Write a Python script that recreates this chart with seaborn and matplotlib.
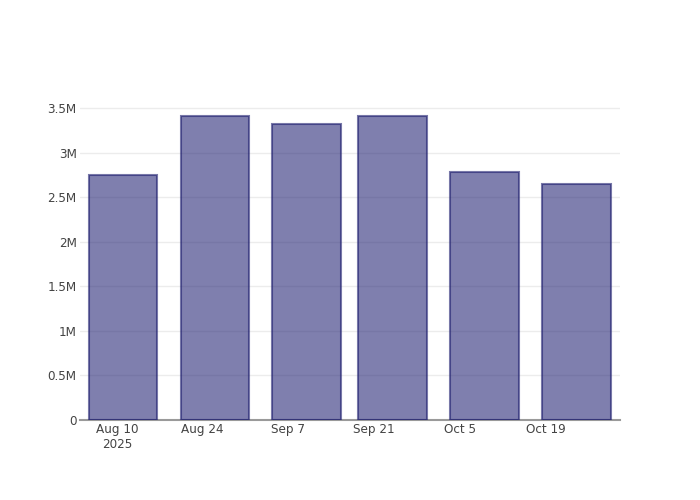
import matplotlib
matplotlib.use("Agg")
import matplotlib.pyplot as plt
import matplotlib.dates as mdates
import seaborn as sns
import pandas as pd
import datetime as dt

# ---- data ----
dates = ["2025-08-11", "2025-08-26", "2025-09-10", "2025-09-24", "2025-10-09", "2025-10-24"]
values = [2750000, 3415000, 3322000, 3415000, 2780000, 2645000]

x_tick_dates = ["2025-08-10", "2025-08-24", "2025-09-07", "2025-09-21", "2025-10-05", "2025-10-19"]
x_tick_labels = ["Aug 10\n2025", "Aug 24", "Sep 7", "Sep 21", "Oct 5", "Oct 19"]
y_tick_values = [0, 500000, 1000000, 1500000, 2000000, 2500000, 3000000, 3500000]
y_tick_labels = ["0", "0.5M", "1M", "1.5M", "2M", "2.5M", "3M", "3.5M"]

sns.set_theme(style="white")
plt.rcParams["font.family"] = ["DejaVu Sans"]

df = pd.DataFrame({
    "x": mdates.date2num(pd.to_datetime(dates)),
    "y": values,
})

fig = plt.figure(figsize=(7, 5), dpi=100)
ax = fig.add_axes([80 / 700, 80 / 500, 540 / 700, 320 / 500])

sns.barplot(data=df, x="x", y="y", native_scale=True, width=0.8,
            color=(42 / 255, 42 / 255, 120 / 255), alpha=0.6,
            edgecolor="#3a3a80", linewidth=1.5, ax=ax, zorder=3)
for p in ax.patches:
    p.set_facecolor((42 / 255, 42 / 255, 120 / 255, 0.6))
    p.set_edgecolor((30 / 255, 30 / 255, 110 / 255, 0.75))

xmin = mdates.date2num(pd.Timestamp("2025-08-04 00:00"))
xmax = mdates.date2num(pd.Timestamp("2025-10-31 02:00"))
ax.set_xlim(xmin, xmax)
ax.set_ylim(0, 3.59e6)

ax.set_xticks(mdates.date2num(pd.to_datetime(x_tick_dates)))
ax.set_xticklabels(x_tick_labels)
ax.set_yticks(y_tick_values)
ax.set_yticklabels(y_tick_labels)

ax.tick_params(axis="both", length=0, labelsize=8.64, colors="#444444", pad=2.5)
ax.set_xlabel("")
ax.set_ylabel("")

ax.grid(axis="y", color="#ececec", linewidth=1, zorder=0)
ax.grid(axis="x", visible=False)
ax.set_axisbelow(True)

for s in ["top", "right", "left"]:
    ax.spines[s].set_visible(False)
ax.spines["bottom"].set_color("#9a9a9a")
ax.spines["bottom"].set_linewidth(1.5)
ax.spines["bottom"].set_zorder(2)

fig.savefig("out.png", dpi=100)
